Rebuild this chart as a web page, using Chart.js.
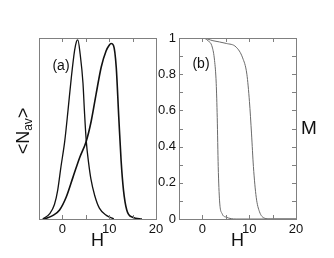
<!DOCTYPE html>
<html>
<head>
<meta charset="UTF-8">
<title>N_av and M vs H</title>
<script src="https://cdn.jsdelivr.net/npm/chart.js"></script>
<style>
  body { margin: 0; background: #fff; }
  #wrap { position: relative; width: 334px; height: 258px; overflow: hidden; }
  canvas { position: absolute; top: 0; }
</style>
</head>
<body>
<div id="wrap">
  <canvas id="left" width="167" height="258" style="left:0px"></canvas>
  <canvas id="right" width="184" height="258" style="left:150px"></canvas>
</div>
<script>
// panel (a): <N_av> vs H, two curves (sharp and broad peak)
const hSharp = [-4.2, -2.7, -1.7, -1.0, -0.3, 0.5, 1.2, 1.9, 2.6, 3.0, 3.3, 3.8, 4.4, 4.7, 5.1, 5.6, 6.1, 6.9, 7.9, 9.4, 11];
const nSharp = [0, 0.03, 0.08, 0.16, 0.29, 0.43, 0.6, 0.78, 0.93, 0.98, 0.99, 0.91, 0.75, 0.6, 0.43, 0.31, 0.22, 0.13, 0.06, 0.02, 0];
const hBroad = [-3.9, -2.0, -0.6, 0.8, 2.25, 3.7, 5.1, 6.15, 7.2, 8.3, 9.35, 10.0, 10.4, 10.9, 11.5, 12.05, 12.55, 13.05, 13.75, 15.0, 17.0];
const nBroad = [0, 0.02, 0.05, 0.12, 0.23, 0.34, 0.43, 0.54, 0.69, 0.84, 0.93, 0.96, 0.97, 0.96, 0.84, 0.56, 0.32, 0.16, 0.05, 0.01, 0];

// panel (b): M vs H
const hM1 = [-5, 0, 1.2, 2.1, 2.6, 2.95, 3.17, 3.38, 3.67, 4.2, 5.1, 7.2, 20];
const m1 = [1, 1, 0.985, 0.95, 0.875, 0.75, 0.56, 0.29, 0.1, 0.03, 0.01, 0, 0];
const hM2 = [-5, 0, 2.25, 5.1, 7.2, 8.6, 9.5, 10.05, 10.5, 10.9, 11.5, 12.2, 13.25, 14.5, 20];
const m2 = [1, 1, 0.985, 0.97, 0.95, 0.89, 0.8, 0.65, 0.47, 0.29, 0.12, 0.04, 0.005, 0, 0];

const xTickLabels = [0, 10, 20];
const yTickStep = 0.2;

const FONT = "'Liberation Sans', Arial, Helvetica, sans-serif";

function toPoints(xs, ys) {
  return xs.map((x, i) => ({ x: x, y: ys[i] }));
}

// draws the box, inward ticks and the text labels
function framePlugin(cfg) {
  return {
    id: 'frame',
    afterDraw(chart) {
      const ctx = chart.ctx;
      const a = chart.chartArea;
      const xs = chart.scales.x, ys = chart.scales.y;
      ctx.save();
      ctx.strokeStyle = '#808080';
      ctx.lineWidth = 1;
      ctx.strokeRect(Math.round(a.left) + 0.5, Math.round(a.top) + 0.5,
                     Math.round(a.right - a.left), Math.round(a.bottom - a.top));
      ctx.beginPath();
      for (let v = -5; v <= 20; v += 5) {
        const px = Math.round(xs.getPixelForValue(v)) + 0.5;
        ctx.moveTo(px, a.bottom); ctx.lineTo(px, a.bottom - 4);
        ctx.moveTo(px, a.top); ctx.lineTo(px, a.top + 4);
      }
      if (cfg.yTicks) {
        for (let k = 1; k < 10; k++) {
          const py = Math.round(ys.getPixelForValue(k / 10)) + 0.5;
          ctx.moveTo(a.left, py); ctx.lineTo(a.left + 4, py);
          ctx.moveTo(a.right, py); ctx.lineTo(a.right - 4, py);
        }
      }
      ctx.stroke();

      ctx.fillStyle = '#111';
      ctx.textAlign = 'center';
      ctx.textBaseline = 'middle';
      ctx.font = '14px ' + FONT;
      ctx.fillText(cfg.tag, cfg.tagX, cfg.tagY);
      ctx.font = '18px ' + FONT;
      ctx.fillText('H', (a.left + a.right) / 2, 241);

      if (cfg.yTitle === 'N') {
        ctx.translate(24, 131);
        ctx.rotate(-Math.PI / 2);
        ctx.textAlign = 'left';
        ctx.font = '18px ' + FONT;
        const w1 = ctx.measureText('<N').width;
        const w3 = ctx.measureText('>').width;
        ctx.font = '12px ' + FONT;
        const w2 = ctx.measureText('av').width;
        let x0 = -(w1 + w2 + w3) / 2;
        ctx.font = '18px ' + FONT;
        ctx.fillText('<N', x0, 0);
        ctx.font = '12px ' + FONT;
        ctx.fillText('av', x0 + w1, 5);
        ctx.font = '18px ' + FONT;
        ctx.fillText('>', x0 + w1 + w2, 0);
      } else {
        ctx.font = '19px ' + FONT;
        ctx.fillText('M', cfg.mX, 129);
      }
      ctx.restore();
    }
  };
}

function xScale() {
  return {
    type: 'linear', min: -5, max: 20,
    grid: { display: false, drawTicks: false, tickLength: 0 },
    border: { display: false },
    ticks: {
      stepSize: 5, padding: 3, color: '#111', maxRotation: 0, autoSkip: false,
      font: { size: 13, family: FONT },
      callback: v => xTickLabels.includes(v) ? String(v) : ''
    },
    afterFit(s) { s.height = 39; }
  };
}

const baseOpts = {
  responsive: false,
  animation: false,
  devicePixelRatio: 1,
  plugins: { legend: { display: false }, tooltip: { enabled: false } },
  elements: { point: { radius: 0 } }
};

new Chart(document.getElementById('left'), {
  type: 'line',
  data: {
    datasets: [
      { data: toPoints(hSharp, nSharp), borderColor: '#111', borderWidth: 1.3, cubicInterpolationMode: 'monotone' },
      { data: toPoints(hBroad, nBroad), borderColor: '#111', borderWidth: 1.6, cubicInterpolationMode: 'monotone' }
    ]
  },
  options: Object.assign({}, baseOpts, {
    layout: { padding: { left: 39, top: 38, right: 11, bottom: 0 } },
    scales: {
      x: xScale(),
      y: { display: false, min: 0, max: 1 }
    }
  }),
  plugins: [framePlugin({ tag: '(a)', tagX: 61, tagY: 66, yTitle: 'N' })]
});

new Chart(document.getElementById('right'), {
  type: 'line',
  data: {
    datasets: [
      { data: toPoints(hM1, m1), borderColor: '#6a6a6a', borderWidth: 1, cubicInterpolationMode: 'monotone' },
      { data: toPoints(hM2, m2), borderColor: '#6a6a6a', borderWidth: 1, cubicInterpolationMode: 'monotone' }
    ]
  },
  options: Object.assign({}, baseOpts, {
    layout: { padding: { left: 0, top: 38, right: 38, bottom: 0 } },
    scales: {
      x: xScale(),
      y: {
        min: 0, max: 1,
        grid: { display: false, drawTicks: false, tickLength: 0 },
        border: { display: false },
        ticks: {
          stepSize: yTickStep, padding: 3, color: '#111', font: { size: 13, family: FONT },
          callback: v => String(Math.round(v * 10) / 10)
        },
        afterFit(s) { s.width = 29; }
      }
    }
  }),
  plugins: [framePlugin({ tag: '(b)', tagX: 51, tagY: 64, yTitle: 'M', yTicks: true, mX: 159 })]
});
</script>
</body>
</html>
